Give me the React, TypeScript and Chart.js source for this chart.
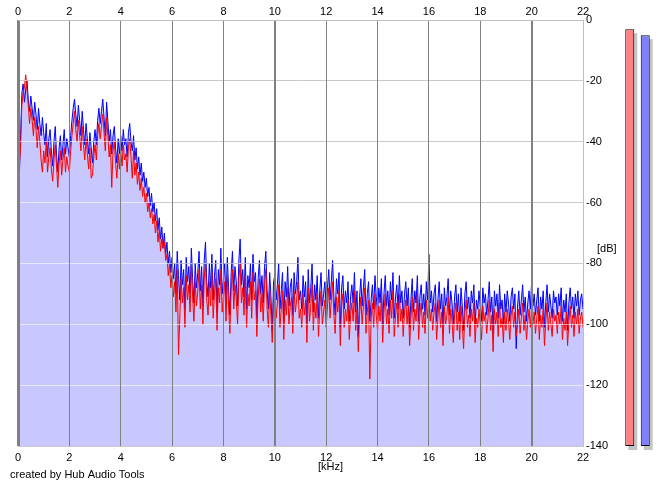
import React, { useEffect, useRef } from "react";
import { Chart, registerables } from "chart.js";

Chart.register(...registerables);

// spectrum bins every 0.05 kHz, 0 .. 22 kHz
const binStepKHz = 0.05;

// right channel (blue), dB — one row per kHz
const blueDb = [
  -34, -52, -38, -24, -21, -27, -23, -20, -26, -30, -25, -29, -33, -27, -31, -36, -29, -34, -38, -32,
  -37, -41, -34, -45, -39, -36, -43, -48, -40, -35, -44, -50, -42, -38, -46, -41, -36, -44, -39, -42,
  -45, -38, -33, -29, -26, -31, -35, -28, -33, -38, -30, -36, -41, -34, -39, -44, -37, -42, -47, -40,
  -36, -41, -33, -29, -34, -30, -26, -32, -38, -27, -33, -40, -36, -44, -38, -35, -42, -47, -39, -44,
  -38, -43, -36, -41, -39, -45, -37, -34, -40, -43, -38, -46, -42, -49, -45, -51, -47, -53, -50, -55,
  -52, -58, -55, -61, -57, -63, -60, -66, -62, -69, -65, -72, -68, -75, -70, -77, -73, -80, -76, -83,
  -78, -85, -80, -90, -76, -84, -92, -79, -87, -82, -95, -78, -86, -81, -90, -75, -85, -93, -80, -88,
  -83, -76, -89, -81, -94, -79, -73, -86, -91, -80, -88, -77, -92, -84, -79, -96, -82, -87, -75, -90,
  -85, -80, -93, -78, -88, -97, -83, -76, -89, -81, -86, -94, -79, -72, -87, -82, -91, -78, -95, -84,
  -88, -80, -92, -77, -86, -83, -98, -85, -79, -90, -84, -93, -81, -76, -89, -95, -83, -91, -102, -86,
  -84, -92, -87, -80, -95, -89, -83, -99, -86, -91, -81, -94, -88, -85, -97, -83, -90, -86, -78, -92,
  -89, -95, -84, -91, -86, -100, -82, -93, -88, -80, -96, -87, -92, -84, -98, -89, -83, -94, -90, -86,
  -95, -88, -82, -92, -86, -79, -91, -97, -85, -90, -83, -101, -88, -84, -95, -89, -93, -86, -99, -91,
  -87, -93, -83, -96, -89, -104, -91, -85, -94, -88, -82, -97, -90, -86, -99, -92, -87, -95, -84, -91,
  -96, -88, -93, -85, -100, -90, -84, -94, -89, -97, -86, -92, -83, -98, -91, -87, -95, -84, -93, -89,
  -98, -90, -86, -94, -88, -101, -92, -85, -96, -89, -93, -84, -99, -91, -87, -95, -90, -97, -86, -92,
  -77, -93, -89, -96, -90, -87, -99, -92, -86, -95, -90, -101, -88, -94, -91, -85, -97, -89, -93, -100,
  -91, -87, -96, -90, -99, -88, -94, -102, -90, -86, -95, -91, -98, -89, -93, -87, -100, -92, -95, -89,
  -94, -99, -88, -93, -90, -97, -92, -86, -96, -91, -103, -89, -94, -90, -98, -87, -95, -92, -100, -90,
  -96, -89, -93, -99, -91, -88, -95, -90, -108, -94, -89, -97, -92, -87, -96, -91, -99, -93, -89, -95,
  -86, -94, -90, -97, -92, -88, -99, -91, -95, -89, -101, -93, -87, -96, -90, -94, -98, -89, -93, -91,
  -97, -90, -94, -88, -99, -92, -96, -90, -102, -93, -88, -95, -91, -98, -90, -94, -89, -97, -92, -90,
  -95,
];

// left channel (red), dB — one row per kHz
const redDb = [
  -40, -48, -42, -28, -24, -22, -18, -23, -28, -34, -29, -33, -38, -32, -36, -42, -35, -40, -46, -50,
  -43, -47, -40, -50, -45, -42, -49, -53, -46, -41, -48, -55, -47, -43, -51, -46, -42, -50, -45, -48,
  -50, -43, -38, -34, -30, -36, -40, -33, -38, -43, -35, -41, -46, -39, -44, -49, -42, -52, -51, -45,
  -41, -46, -38, -34, -39, -35, -31, -37, -43, -32, -38, -45, -41, -55, -43, -40, -47, -52, -44, -49,
  -43, -48, -41, -46, -44, -50, -42, -39, -45, -52, -43, -51, -47, -54, -50, -56, -52, -58, -55, -60,
  -57, -63, -60, -65, -62, -67, -64, -70, -66, -73, -69, -76, -72, -75, -73, -79, -77, -84, -80, -88,
  -84, -91, -86, -96, -82, -110, -98, -85, -93, -88, -101, -84, -92, -87, -96, -81, -91, -99, -86, -94,
  -89, -82, -95, -87, -100, -85, -80, -92, -97, -86, -94, -83, -98, -90, -85, -102, -88, -93, -82, -96,
  -91, -86, -99, -84, -94, -103, -89, -82, -95, -87, -92, -100, -85, -80, -93, -88, -97, -84, -101, -90,
  -94, -86, -98, -83, -92, -89, -104, -91, -85, -96, -90, -99, -87, -82, -95, -101, -89, -97, -106, -92,
  -90, -98, -93, -87, -101, -95, -89, -105, -92, -97, -88, -100, -94, -91, -103, -89, -96, -92, -86, -98,
  -95, -101, -90, -97, -92, -106, -88, -99, -94, -87, -102, -93, -98, -90, -104, -95, -89, -100, -96, -92,
  -101, -94, -88, -98, -92, -86, -97, -103, -91, -96, -89, -107, -94, -90, -101, -95, -99, -92, -105, -97,
  -93, -99, -89, -102, -95, -109, -97, -91, -100, -94, -88, -103, -96, -92, -118, -98, -93, -101, -90, -97,
  -102, -94, -99, -91, -106, -96, -90, -100, -95, -103, -92, -98, -89, -104, -97, -93, -101, -90, -99, -95,
  -104, -96, -92, -100, -94, -107, -98, -91, -102, -95, -99, -90, -105, -97, -93, -101, -96, -103, -92, -98,
  -92, -99, -95, -102, -96, -93, -105, -98, -92, -101, -96, -107, -94, -100, -97, -91, -103, -95, -99, -106,
  -97, -93, -102, -96, -105, -94, -100, -108, -96, -92, -101, -97, -104, -95, -99, -93, -106, -98, -101, -95,
  -100, -105, -94, -99, -96, -103, -98, -92, -102, -97, -109, -95, -100, -96, -104, -93, -101, -98, -106, -96,
  -102, -95, -99, -105, -97, -94, -101, -96, -104, -100, -95, -103, -98, -93, -102, -97, -105, -99, -95, -101,
  -94, -100, -96, -103, -98, -94, -105, -97, -101, -95, -107, -99, -93, -102, -96, -100, -104, -95, -99, -97,
  -103, -96, -100, -94, -105, -98, -102, -96, -107, -99, -94, -101, -97, -104, -96, -100, -95, -103, -98, -96,
  -101,
];

// output meters (left red, right blue), dB
const meterLabels = ["L", "R"];
const meterLevels = [-3, -5];

const xMinKHz = 0;
const xMaxKHz = 22;
const yMinDb = -140;
const yMaxDb = 0;

const FONT = "'Liberation Sans', Arial, sans-serif";

const toPoints = (arr: number[]) =>
  arr.map((v, i) => ({ x: Math.round(i * binStepKHz * 100) / 100, y: v }));

const textPlugin = {
  id: "labels",
  afterDraw(chart: any) {
    const { ctx, chartArea } = chart;
    ctx.save();
    ctx.fillStyle = "#000";
    ctx.font = `11px ${FONT}`;
    ctx.textBaseline = "middle";
    ctx.textAlign = "left";
    ctx.fillText("[kHz]", chartArea.left + 300, 467);
    ctx.fillText("[dB]", chartArea.right + 14, 249);
    ctx.fillText("created by Hub Audio Tools", 10, 475);
    ctx.restore();
  },
};

// light overlay on the horizontal grid lines, drawn above the data
const gridOverlayPlugin = {
  id: "gridOverlay",
  afterDatasetsDraw(chart: any) {
    const { ctx, chartArea, scales } = chart;
    const y = scales.y;
    ctx.save();
    ctx.strokeStyle = "rgba(255,255,255,0.58)";
    ctx.lineWidth = 1;
    y.ticks.forEach((t: any) => {
      const raw = y.getPixelForValue(t.value);
      const py = Math.round(raw - 0.5) + 0.5;
      ctx.beginPath();
      ctx.moveTo(chartArea.left, py);
      ctx.lineTo(chartArea.right, py);
      ctx.stroke();
    });
    ctx.restore();
  },
};

const shadowPlugin = {
  id: "barShadow",
  beforeDatasetsDraw(chart: any) {
    const { ctx } = chart;
    const meta = chart.getDatasetMeta(0);
    ctx.save();
    ctx.fillStyle = "#c4c4c4";
    meta.data.forEach((bar: any) => {
      const p = bar.getProps(["x", "y", "base", "width"], true);
      ctx.fillRect(p.x - p.width / 2 + 3, p.y + 4, p.width, p.base - p.y);
    });
    ctx.restore();
  },
};

export default function App() {
  const mainRef = useRef<HTMLCanvasElement>(null);
  const meterRef = useRef<HTMLCanvasElement>(null);

  useEffect(() => {
    document.body.style.margin = "0";
    const envelope = blueDb.map((b, i) => Math.max(b, redDb[i]));

    const gridColor = (c: any) => {
      const v = c.tick?.value;
      if (v === 22) return "#c0c0c0";
      return "#808080";
    };
    const gridWidth = (c: any) => {
      const v = c.tick?.value;
      if (v === 0) return 3;
      if (v === 10 || v === 20) return 2;
      return 1;
    };

    const main = new Chart(mainRef.current!, {
      type: "line",
      data: {
        datasets: [
          {
            label: "L",
            data: toPoints(redDb),
            borderColor: "#ff0000",
            borderWidth: 1,
            pointRadius: 0,
            tension: 0,
            fill: false,
          },
          {
            label: "R",
            data: toPoints(blueDb),
            borderColor: "#0000ff",
            borderWidth: 1,
            pointRadius: 0,
            tension: 0,
            fill: false,
          },
          {
            label: "area",
            data: toPoints(envelope),
            borderWidth: 0,
            borderColor: "rgba(0,0,0,0)",
            backgroundColor: "#c8c8ff",
            pointRadius: 0,
            tension: 0,
            fill: "start",
          },
        ],
      },
      options: {
        animation: false,
        responsive: false,
        events: [],
        layout: { padding: { left: 18, right: 0, top: 0, bottom: 0 } },
        plugins: {
          legend: { display: false },
          tooltip: { enabled: false },
        },
        scales: {
          x: {
            type: "linear",
            position: "bottom",
            min: xMinKHz,
            max: xMaxKHz,
            afterFit: (s: any) => {
              s.height = 41;
            },
            ticks: {
              stepSize: 2,
              autoSkip: false,
              maxRotation: 0,
              padding: 5,
              color: "#000",
              font: { family: FONT, size: 11 },
            },
            grid: {
              z: 1,
              drawTicks: false,
              color: gridColor,
              lineWidth: gridWidth,
            },
            border: { display: false },
          },
          x2: {
            type: "linear",
            position: "top",
            min: xMinKHz,
            max: xMaxKHz,
            afterFit: (s: any) => {
              s.height = 20;
            },
            ticks: {
              stepSize: 2,
              autoSkip: false,
              maxRotation: 0,
              padding: 1,
              color: "#000",
              font: { family: FONT, size: 11 },
            },
            grid: { display: false, drawTicks: false },
            border: { display: true, color: "#c0c0c0", z: 1 },
          },
          y: {
            type: "linear",
            position: "right",
            min: yMinDb,
            max: yMaxDb,
            afterFit: (s: any) => {
              s.width = 82;
            },
            ticks: {
              stepSize: 20,
              padding: 3,
              color: "#000",
              font: { family: FONT, size: 11 },
            },
            grid: { drawTicks: false, color: "#808080", lineWidth: 1 },
            border: { display: true, color: "#c0c0c0", z: 1 },
          },
        },
      },
      plugins: [gridOverlayPlugin, textPlugin],
    } as any);

    const meter = new Chart(meterRef.current!, {
      type: "bar",
      data: {
        labels: meterLabels,
        datasets: [
          {
            data: meterLevels.map((v) => [yMinDb, v]),
            backgroundColor: ["#ff8080", "#8080ff"],
            borderColor: "#000",
            borderWidth: 1,
            borderSkipped: false,
            barPercentage: 1,
            categoryPercentage: 0.58,
          },
        ],
      },
      options: {
        animation: false,
        responsive: false,
        events: [],
        layout: { padding: { left: 0, right: 9, top: 20, bottom: 41 } },
        plugins: { legend: { display: false }, tooltip: { enabled: false } },
        scales: {
          x: { display: false },
          y: { display: false, min: yMinDb, max: yMaxDb },
        },
      },
      plugins: [shadowPlugin],
    } as any);

    return () => {
      main.destroy();
      meter.destroy();
    };
  }, []);

  return (
    <div
      style={{
        position: "fixed",
        left: 0,
        top: 0,
        width: 665,
        height: 487,
        background: "#fff",
      }}
    >
      <canvas
        ref={mainRef}
        width={665}
        height={487}
        style={{ position: "absolute", left: 0, top: 0, width: 665, height: 487 }}
      />
      <canvas
        ref={meterRef}
        width={40}
        height={487}
        style={{ position: "absolute", left: 622, top: 0, width: 40, height: 487 }}
      />
    </div>
  );
}
